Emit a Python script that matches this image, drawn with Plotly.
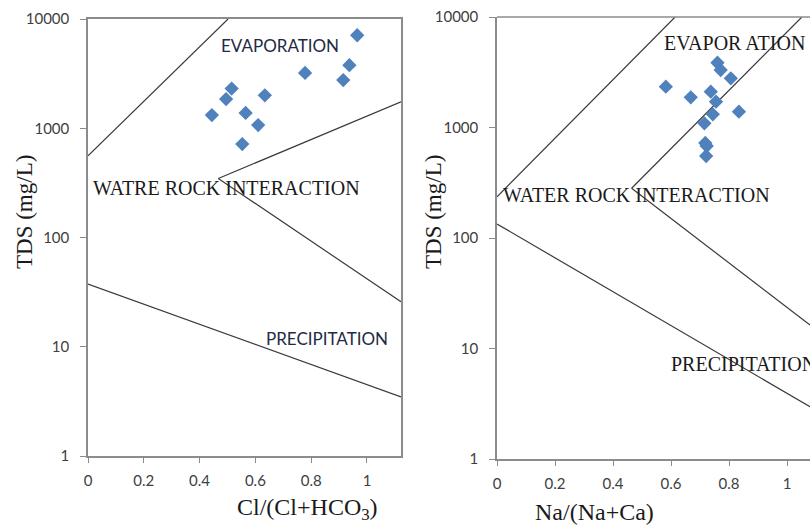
import math
import plotly.graph_objects as go

# ---------------- data ----------------
# Left panel: Cl/(Cl+HCO3) vs TDS
cl_ratio = [0.965, 0.937, 0.915, 0.778, 0.634, 0.515, 0.495, 0.444, 0.565, 0.610, 0.553]
tds_left = [7100, 3780, 2760, 3210, 2000, 2310, 1850, 1320, 1380, 1070, 716]

# Right panel: Na/(Na+Ca) vs TDS
na_ratio = [0.582, 0.668, 0.737, 0.755, 0.744, 0.715, 0.760, 0.771, 0.806, 0.834, 0.718, 0.723, 0.721]
tds_right = [2340, 1876, 2110, 1713, 1316, 1091, 3856, 3313, 2787, 1390, 725, 680, 552]

# Gibbs boundary lines (x, y pairs) - left panel
left_b1_x = [0.0, 0.502];  left_b1_y = [560, 10000]
left_b2_x = [0.467, 1.122]; left_b2_y = [347, 1745]
left_b3_x = [0.467, 1.122]; left_b3_y = [347, 25.8]
left_b4_x = [0.0, 1.122];  left_b4_y = [37.5, 3.47]

# Gibbs boundary lines - right panel
right_b1_x = [0.0, 0.614];  right_b1_y = [236, 10000]
right_b2_x = [0.464, 1.051]; right_b2_y = [282, 10000]
right_b3_x = [0.464, 1.079]; right_b3_y = [282, 16.3]
right_b4_x = [0.0, 1.079];  right_b4_y = [134, 2.97]

x_tickvals = [0, 0.2, 0.4, 0.6, 0.8, 1]
x_ticktext = ["0", "0.2", "0.4", "0.6", "0.8", "1"]
y_tickvals = [1, 10, 100, 1000, 10000]
y_ticktext = ["1", "10", "100", "1000", "10000"]

# ---------------- figure ----------------
W, H = 810, 526
LINE = "#3a3a3a"
AXIS = "#8c8c8c"
BLUE = "#4F81BD"
SANS = "Lato, Liberation Sans, sans-serif"
SERIF = "Liberation Serif, Times New Roman, serif"

fig = go.Figure()

for xs, ys in [(left_b1_x, left_b1_y), (left_b2_x, left_b2_y),
               (left_b3_x, left_b3_y), (left_b4_x, left_b4_y)]:
    fig.add_trace(go.Scatter(x=xs, y=ys, mode="lines", xaxis="x", yaxis="y",
                             line=dict(color=LINE, width=1.2), hoverinfo="skip",
                             showlegend=False))
for xs, ys in [(right_b1_x, right_b1_y), (right_b2_x, right_b2_y),
               (right_b3_x, right_b3_y), (right_b4_x, right_b4_y)]:
    fig.add_trace(go.Scatter(x=xs, y=ys, mode="lines", xaxis="x2", yaxis="y2",
                             line=dict(color=LINE, width=1.2), hoverinfo="skip",
                             showlegend=False))

fig.add_trace(go.Scatter(x=cl_ratio, y=tds_left, mode="markers", xaxis="x", yaxis="y",
                         marker=dict(symbol="diamond", size=11, color=BLUE),
                         showlegend=False))
fig.add_trace(go.Scatter(x=na_ratio, y=tds_right, mode="markers", xaxis="x2", yaxis="y2",
                         marker=dict(symbol="diamond", size=11, color=BLUE),
                         showlegend=False))

tickfont = dict(family=SANS, size=15, color="#404040")
common_x = dict(tickmode="array", tickvals=x_tickvals, ticktext=x_ticktext,
                showgrid=False, zeroline=False, showline=True, linecolor=AXIS,
                linewidth=1.5, ticks="outside", ticklen=5, tickcolor=AXIS,
                tickfont=tickfont, fixedrange=True, automargin=False,
                ticklabelstandoff=5)
common_y = dict(type="log", range=[0, 4], tickmode="array", tickvals=y_tickvals,
                ticktext=y_ticktext, showgrid=False, zeroline=False, showline=True,
                linecolor=AXIS, linewidth=1.5, ticks="outside", ticklen=6,
                tickcolor=AXIS, tickfont=tickfont, fixedrange=True, automargin=False,
                ticklabelstandoff=8)

fig.update_layout(
    width=W, height=H,
    margin=dict(l=0, r=0, t=0, b=0, autoexpand=False),
    paper_bgcolor="white", plot_bgcolor="white",
    xaxis=dict(domain=[88 / W, 401 / W], range=[0, 1.122], anchor="y",
               mirror=True, **common_x),
    yaxis=dict(domain=[1 - 456 / H, 1 - 19 / H], anchor="x", mirror=True, **common_y),
    xaxis2=dict(domain=[497 / W, 1.0], range=[0, 1.079], anchor="y2", **common_x),
    yaxis2=dict(domain=[1 - 459 / H, 1 - 17 / H], anchor="x2", **common_y),
    showlegend=False,
)

# top border of right panel (right border lies outside the picture)
fig.add_shape(type="line", xref="x2 domain", yref="y2 domain", x0=0, x1=1, y0=1, y1=1,
              line=dict(color=AXIS, width=1.5))

L = math.log10
ann = []
# region labels, left panel
ann.append(dict(x=0.69, y=L(5750), xref="x", yref="y", text="EVAPORATION",
                font=dict(family=SANS, size=17, color="#1f2a44"), showarrow=False))
ann.append(dict(x=0.495, y=L(283), xref="x", yref="y", text="WATRE ROCK INTERACTION",
                font=dict(family=SERIF, size=20, color="#1a1a1a"), showarrow=False))
ann.append(dict(x=0.857, y=L(12), xref="x", yref="y", text="PRECIPITATION",
                font=dict(family=SANS, size=17, color="#1f2a44"), showarrow=False))
# region labels, right panel
ann.append(dict(x=0.82, y=L(5820), xref="x2", yref="y2", text="EVAPOR ATION",
                font=dict(family=SERIF, size=20, color="#1a1a1a"), showarrow=False))
ann.append(dict(x=0.482, y=L(245), xref="x2", yref="y2", text="WATER ROCK INTERACTION",
                font=dict(family=SERIF, size=20, color="#1a1a1a"), showarrow=False))
ann.append(dict(x=0.593, y=L(7.2), xref="x2", yref="y2", text="PRECIPITATION",
                xanchor="left", font=dict(family=SERIF, size=20, color="#1a1a1a"),
                showarrow=False))
# axis titles
ann.append(dict(x=235 / W, y=1 - 509 / H, xref="paper", yref="paper",
                text="Cl/(Cl+HCO<sub>3</sub>)", font=dict(family=SERIF, size=24, color="#1a1a1a"),
                showarrow=False, yanchor="middle"))
ann.append(dict(x=656 / W, y=1 - 512 / H, xref="paper", yref="paper",
                text="Na/(Na+Ca)", font=dict(family=SERIF, size=24, color="#1a1a1a"),
                showarrow=False, yanchor="middle"))
ann.append(dict(x=24 / W, y=1 - 212 / H, xref="paper", yref="paper", textangle=-90,
                text="TDS (mg/L)", font=dict(family=SERIF, size=23, color="#1a1a1a"),
                showarrow=False, xanchor="center", yanchor="middle"))
ann.append(dict(x=433 / W, y=1 - 212 / H, xref="paper", yref="paper", textangle=-90,
                text="TDS (mg/L)", font=dict(family=SERIF, size=23, color="#1a1a1a"),
                showarrow=False, xanchor="center", yanchor="middle"))
fig.update_layout(annotations=ann)

fig.write_html("out.html", config={"displayModeBar": False},
               post_script="document.body.style.margin='0';"
                           "document.body.style.overflow='hidden';")
